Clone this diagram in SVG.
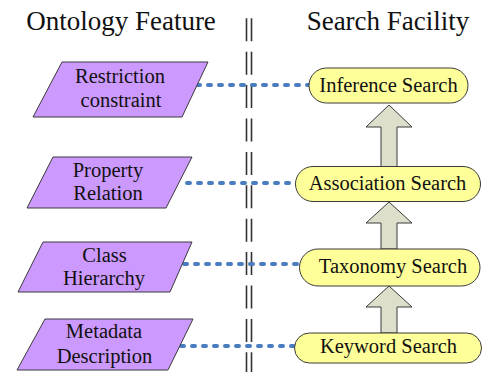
<svg xmlns="http://www.w3.org/2000/svg" width="483" height="372" viewBox="0 0 483 372">
<style>
text{fill:#111;text-anchor:middle}
.hdr{font-size:27px}
.lbl{font-size:20.5px}
.feat{fill:#CC99FF;stroke:#3a3a3a;stroke-width:1}
.srch{fill:#FFFF99;stroke:#3a3a3a;stroke-width:1}
.arr{fill:#DDDFCB;stroke:#3a3a3a;stroke-width:1}
.sep{stroke:#333;stroke-width:1.6;stroke-dasharray:23 10.4;fill:none}
.link{stroke:#4A7DC0;stroke-width:4;stroke-dasharray:3 8;stroke-linecap:round;fill:none}
</style>
<rect width="483" height="372" fill="#fff"/>
<g font-family="'Liberation Serif', 'Times New Roman', Times, 'DejaVu Serif', serif">
<g id="headers">
<text class="hdr" x="121" y="30">Ontology Feature</text>
<text class="hdr" x="388" y="30">Search Facility</text>
</g>
<g id="separator">
<line class="sep" x1="246.5" y1="18.3" x2="246.5" y2="372"/>
<line class="sep" x1="251.5" y1="18.3" x2="251.5" y2="372"/>
</g>
<g id="arrows">
<path class="arr" d="M389,105 L412,127 L397,127 L397,167 L381,167 L381,127 L366,127 Z"/>
<path class="arr" d="M389,202 L412,223 L397,223 L397,249 L381,249 L381,223 L366,223 Z"/>
<path class="arr" d="M389,286 L412,307 L397,307 L397,333 L381,333 L381,307 L366,307 Z"/>
</g>
<g id="connectors">
<line class="link" x1="197" y1="85" x2="310" y2="85"/>
<line class="link" x1="187" y1="183" x2="296" y2="183"/>
<line class="link" x1="184" y1="264" x2="300" y2="264"/>
<line class="link" x1="181" y1="346" x2="295" y2="346"/>
</g>
<g id="restriction">
<polygon class="feat" points="62,62 208,62 182,117 33,117"/>
<text class="lbl" x="120" y="83">Restriction</text>
<text class="lbl" x="121" y="106.5">constraint</text>
</g>
<g id="property">
<polygon class="feat" points="53,157 192,157 166,208 27,208"/>
<text class="lbl" x="108" y="176.5">Property</text>
<text class="lbl" x="108" y="200">Relation</text>
</g>
<g id="class">
<polygon class="feat" points="43,242 192,242 170,292 18,292"/>
<text class="lbl" x="104.5" y="261.5">Class</text>
<text class="lbl" x="104" y="285">Hierarchy</text>
</g>
<g id="metadata">
<polygon class="feat" points="45,319 193,319 168,370 17,370"/>
<text class="lbl" x="104" y="338">Metadata</text>
<text class="lbl" x="104.5" y="363">Description</text>
</g>
<g id="inference">
<rect class="srch" x="309" y="68" width="159" height="35" rx="17.5"/>
<text class="lbl" x="388.5" y="92">Inference Search</text>
</g>
<g id="association">
<rect class="srch" x="295.5" y="166.5" width="185" height="35" rx="17.5"/>
<text class="lbl" x="387.5" y="189.5">Association Search</text>
</g>
<g id="taxonomy">
<rect class="srch" x="299.5" y="249" width="180.5" height="37" rx="18.5"/>
<text class="lbl" x="393" y="273">Taxonomy Search</text>
</g>
<g id="keyword">
<rect class="srch" x="294.5" y="333" width="187" height="30" rx="15"/>
<text class="lbl" x="388.5" y="353">Keyword Search</text>
</g>
</g>
</svg>
